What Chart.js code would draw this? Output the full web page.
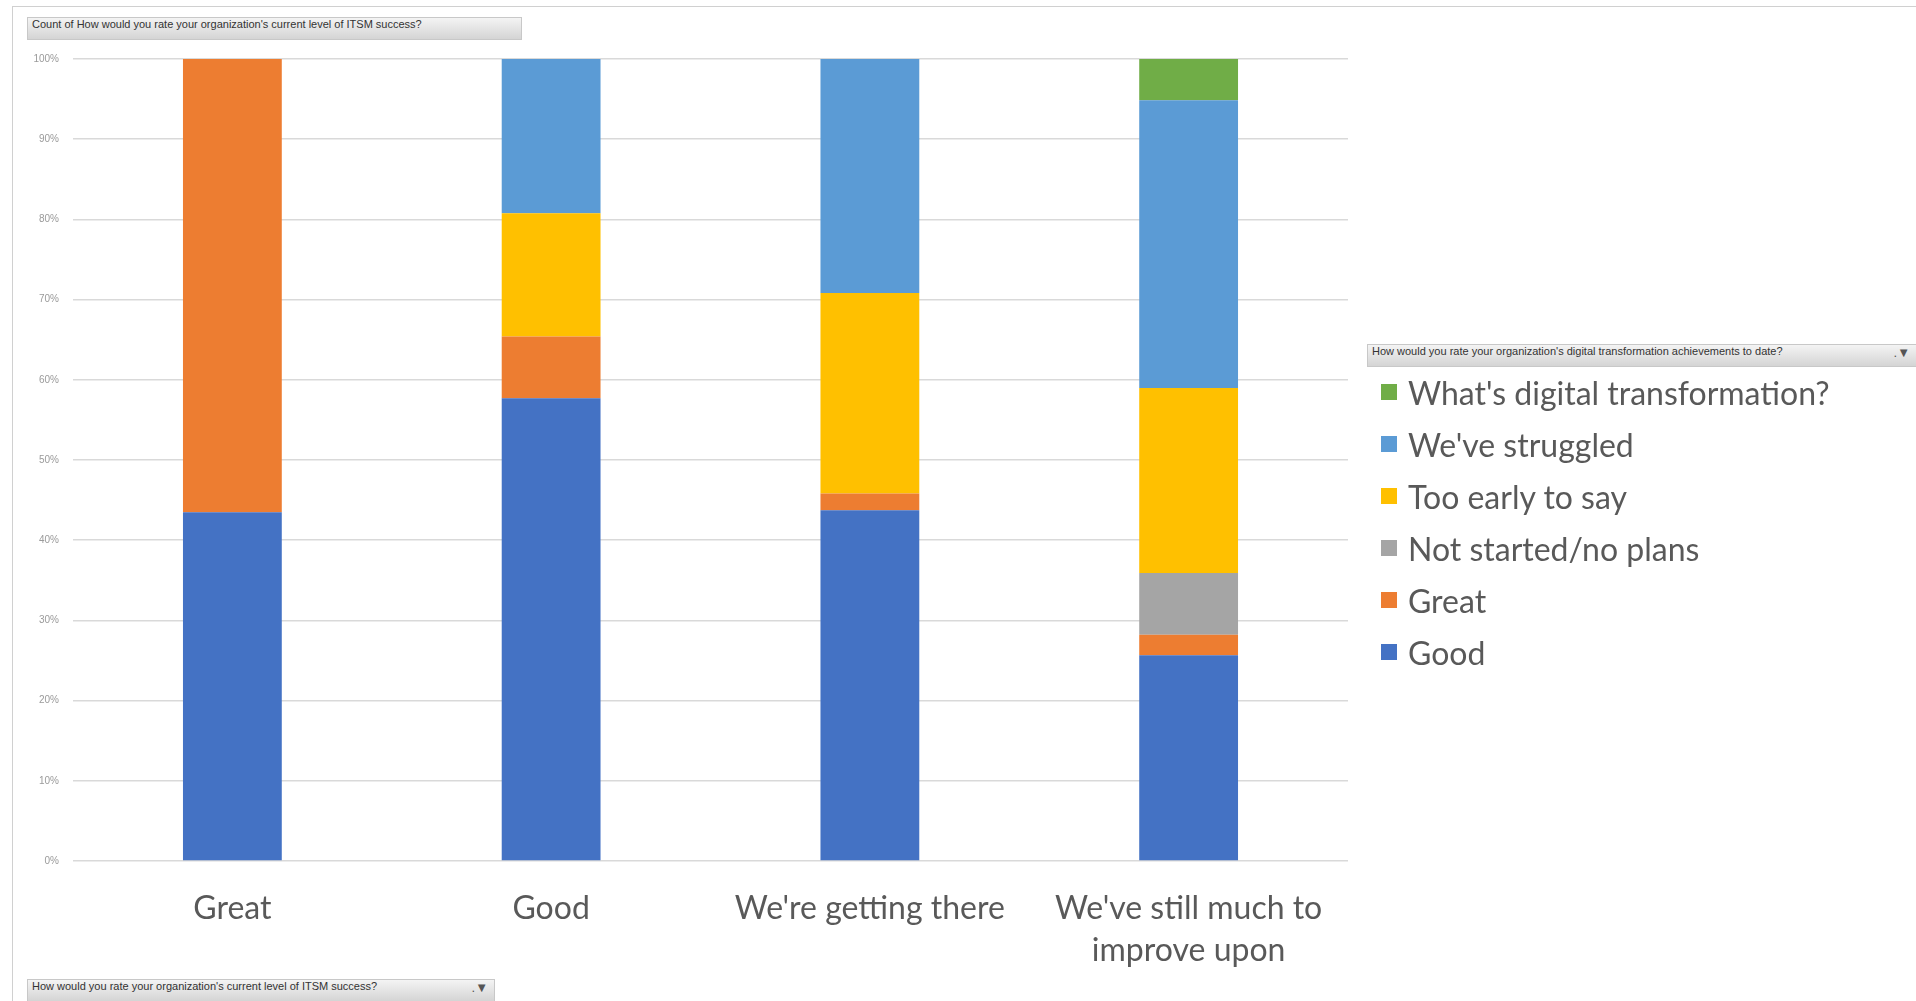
<!DOCTYPE html>
<html>
<head>
<meta charset="utf-8">
<script src="https://cdn.jsdelivr.net/npm/chart.js@4.4.0/dist/chart.umd.min.js"></script>
<style>
  body { margin: 0; background: #fff; width: 1916px; height: 1001px; overflow: hidden; position: relative; font-family: Lato, sans-serif; }
  #frame { position: absolute; left: 12px; top: 6px; width: 2000px; height: 1100px; border-left: 1px solid #d0d0d0; border-top: 1px solid #d0d0d0; }
  #wrap { position: absolute; left: 0; top: 0; width: 1916px; height: 1001px; }
  .btn { position: absolute; height: 23px; line-height: 23px; font: 11px "Liberation Sans", sans-serif; color: #333;
         background: linear-gradient(to bottom, #f4f4f4, #d4d4d4); border: 1px solid #c8c8c8; box-sizing: border-box; padding-left: 4px; white-space: nowrap; overflow: hidden; }
  .btn .flt { position: absolute; right: 6px; top: 0; color: #555; font-size: 13px; }
  #legend { position: absolute; left: 1381px; top: 372px; }
  .item { height: 52px; display: flex; align-items: center; font-size: 32px; color: #595959; font-family: Lato, sans-serif; }
  .item .sw { width: 16px; height: 16px; margin-right: 11px; flex: none; position: relative; top: -6px; }
  .item span.t { position: relative; top: -6px; }
</style>
</head>
<body>
<div id="frame"></div>
<div id="wrap"><canvas id="myChart" width="1916" height="1001"></canvas></div>
<div class="btn" style="left:27px; top:17px; width:495px;">Count of How would you rate your organization's current level of ITSM success?</div>
<div class="btn" style="left:1367px; top:344px; width:560px;">How would you rate your organization's digital transformation achievements to date?<span class="flt" style="right:16px">.&#9660;</span></div>
<div class="btn" style="left:27px; top:979px; width:468px;">How would you rate your organization's current level of ITSM success?<span class="flt">.&#9660;</span></div>
<div id="legend"></div>
<script>
// categories on the x axis
const categories = ['Great', 'Good', "We're getting there", ["We've still much to", 'improve upon']];

// counts per answer, one value per category
const good       = [10, 15, 21, 10];
const great      = [13, 2, 1, 1];
const notStarted = [0, 0, 0, 3];
const tooEarly   = [0, 4, 12, 9];
const struggled  = [0, 5, 14, 14];
const whatsDT    = [0, 0, 0, 2];

const seriesNames = ['Good', 'Great', 'Not started/no plans', 'Too early to say', "We've struggled", "What's digital transformation?"];
const seriesColors = ['#4472C4', '#ED7D31', '#A5A5A5', '#FFC000', '#5B9BD5', '#70AD47'];
const yTicks = [0, 10, 20, 30, 40, 50, 60, 70, 80, 90, 100];

const allSeries = [good, great, notStarted, tooEarly, struggled, whatsDT];

// totals per category so every column adds up to 100%
const totals = categories.map((c, i) => allSeries.reduce((s, arr) => s + arr[i], 0));

const datasets = allSeries.map((arr, k) => ({
  label: seriesNames[k],
  data: arr.map((v, i) => v / totals[i] * 100),
  backgroundColor: seriesColors[k],
  borderWidth: 0,
  barPercentage: 0.62,
  categoryPercentage: 0.5
}));

new Chart(document.getElementById('myChart'), {
  type: 'bar',
  data: { labels: categories, datasets: datasets },
  options: {
    responsive: false,
    animation: false,
    layout: { padding: { left: 0, top: 59, right: 568, bottom: 19 } },
    plugins: { legend: { display: false }, tooltip: { enabled: false } },
    scales: {
      x: {
        stacked: true,
        grid: { display: false },
        border: { display: false },
        ticks: { color: '#595959', font: { family: 'Lato', size: 32, lineHeight: 1.33 }, padding: 18 },
        afterFit: function(scale) { scale.height = 121; }
      },
      y: {
        stacked: true,
        min: 0,
        max: 100,
        afterBuildTicks: function(scale) { scale.ticks = yTicks.map(v => ({ value: v })); },
        grid: { color: '#d9d9d9', lineWidth: 1.5, drawTicks: false },
        border: { display: false },
        ticks: { color: '#9a9a9a', font: { family: 'Liberation Sans', size: 10 }, padding: 14,
                 callback: v => v + '%' },
        afterFit: function(scale) { scale.width = 73; }
      }
    }
  }
});

// legend, top entry is the last series
const legend = document.getElementById('legend');
for (let k = seriesNames.length - 1; k >= 0; k--) {
  const row = document.createElement('div');
  row.className = 'item';
  row.innerHTML = '<div class="sw" style="background:' + seriesColors[k] + '"></div><span class="t">' + seriesNames[k] + '</span>';
  legend.appendChild(row);
}
</script>
</body>
</html>
